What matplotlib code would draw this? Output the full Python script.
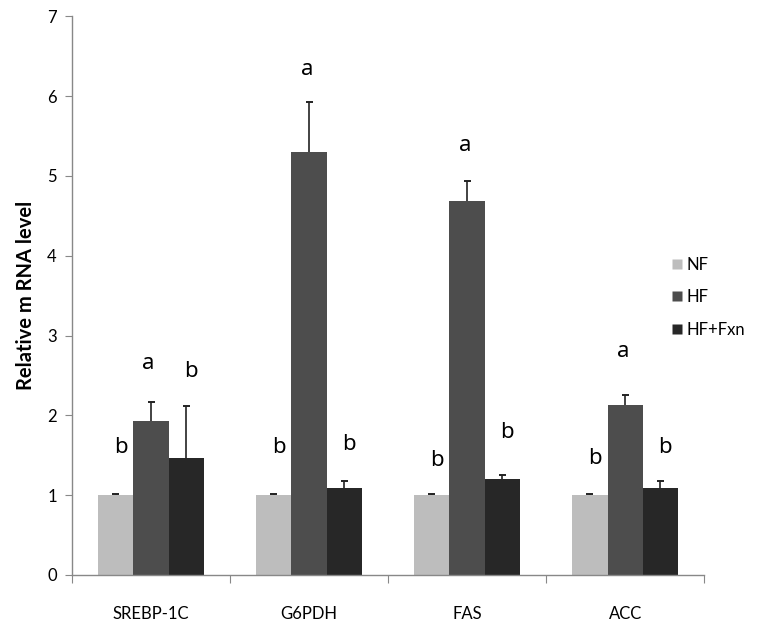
import matplotlib
matplotlib.use("Agg")
import matplotlib.pyplot as plt
import numpy as np
from matplotlib.lines import Line2D

categories = ["SREBP-1C", "G6PDH", "FAS", "ACC"]
groups = ["NF", "HF", "HF+Fxn"]
nf = [1.0, 1.0, 1.0, 1.0]
hf = [1.93, 5.30, 4.68, 2.13]
hfx = [1.46, 1.09, 1.20, 1.09]
nf_err = [0.01, 0.01, 0.01, 0.01]
hf_err = [0.24, 0.63, 0.25, 0.13]
hfx_err = [0.66, 0.09, 0.05, 0.09]
letters = [["b", "a", "b"], ["b", "a", "b"], ["b", "a", "b"], ["b", "a", "b"]]
letter_y = [[1.60, 2.65, 2.55], [1.60, 6.33, 1.64], [1.44, 5.38, 1.78], [1.46, 2.80, 1.60]]

colors = ["#bdbdbd", "#4d4d4d", "#272727"]
plt.rcParams['font.family'] = ['Lato', 'DejaVu Sans']

fig = plt.figure(figsize=(7.58, 6.26), dpi=100)
ax = fig.add_axes([0.095, 0.0815, 0.834, 0.8925])

x = np.arange(len(categories))
w = 0.67 / 3
cap = 0.022
series = [nf, hf, hfx]
errs = [nf_err, hf_err, hfx_err]
for k in range(3):
    pos = x + (k - 1) * w
    vals = np.array(series[k])
    tops = vals + np.array(errs[k])
    ax.bar(pos, vals, width=w, color=colors[k], edgecolor='none', zorder=2)
    ax.vlines(pos, vals, tops, colors='#222222', linewidth=1.2, zorder=3)
    ax.hlines(tops, pos - cap, pos + cap, colors='#222222', linewidth=1.4, zorder=3)
    for i in range(len(categories)):
        ax.text(pos[i] + (0.03 if k != 1 else -0.015), letter_y[i][k], letters[i][k],
                ha='center', va='center', fontsize=16, color='black',
                family=['Noto Sans', 'DejaVu Sans'])

ax.set_xlim(-0.5, len(categories) - 0.5)
ax.set_ylim(0, 7)
ax.set_yticks(range(0, 8))
ax.tick_params(axis='y', direction='out', length=5, color='#888888', labelsize=12, pad=6)
ax.set_xticks(np.arange(-0.5, len(categories), 1.0), minor=False)
ax.set_xticklabels([])
ax.set_xticks(x, minor=True)
ax.set_xticklabels(categories, minor=True, fontsize=12)
ax.tick_params(axis='x', which='major', direction='out', length=6, color='#888888')
ax.tick_params(axis='x', which='minor', length=0, pad=22)

for s in ['top', 'right']:
    ax.spines[s].set_visible(False)
for s in ['left', 'bottom']:
    ax.spines[s].set_color('#888888')
    ax.spines[s].set_linewidth(1.0)

ax.set_ylabel("Relative m RNA level", fontsize=14.5, fontweight='bold', labelpad=8)

handles = [Line2D([0], [0], marker='s', linestyle='none', markersize=7,
                  markerfacecolor=c, markeredgecolor='none') for c in colors]
ax.legend(handles, groups, loc='center left', bbox_to_anchor=(0.92, 0.497),
          frameon=False, fontsize=12, handletextpad=0.1, labelspacing=1.0,
          handlelength=1.0)

fig.savefig("out.png", dpi=100)
